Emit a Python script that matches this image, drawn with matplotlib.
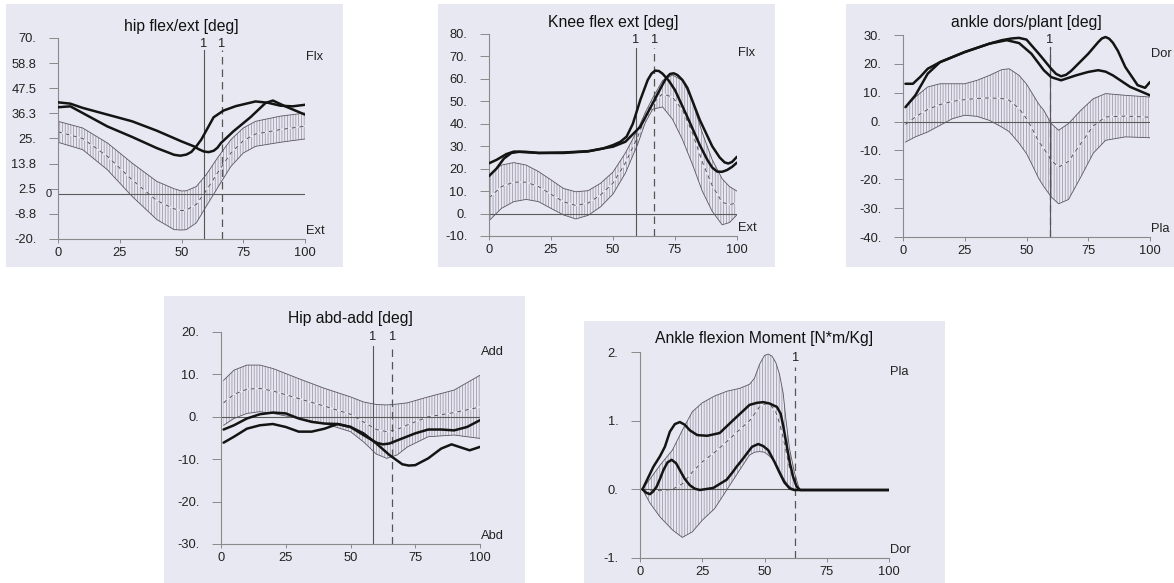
import matplotlib
matplotlib.use("Agg")
import matplotlib.pyplot as plt
from matplotlib.patches import Rectangle

plt.rcParams['font.family'] = ['Liberation Sans', 'DejaVu Sans']
plt.rcParams['hatch.linewidth'] = 0.55

# ---------------- DATA ----------------
# Panel 1: hip flex/ext [deg]
hipfe_band_x = [0, 10, 20, 30, 40, 47, 50, 52, 56, 60, 65, 70, 75, 80, 90, 100]
hipfe_upper = [32.7, 29.7, 23, 14, 5.8, 2.5, 1.5, 1.6, 3.5, 8.8, 17, 24.5, 29.7, 32.7, 35, 36.4]
hipfe_lower = [23.3, 20, 11, -0.9, -11.3, -15.8, -16, -15.8, -12.8, -5.4, 3.6, 12.5, 18.5, 21.5, 23.3, 24.8]
hipfe_mean = [28, 25, 17, 6.5, -2.8, -6.5, -7.3, -7, -4.5, 1.7, 10.3, 18.5, 24, 27, 29, 30.5]
hipfe_a_x = [0, 5, 10, 20, 30, 40, 50, 55, 57, 59, 61, 63, 64.5, 66, 71, 78, 84, 87, 92, 100]
hipfe_a_y = [41.2, 40.6, 38.7, 35.7, 32.7, 28.5, 23.7, 21.5, 20.2, 19.2, 18.9, 19.5, 20.8, 23, 28.2, 34.6, 40.9, 42, 39.4, 35.7]
hipfe_b_x = [0, 5, 10, 20, 30, 40, 44, 47, 49.5, 52, 54, 56, 58, 60, 63, 67, 72, 80, 85, 90, 95, 100]
hipfe_b_y = [39, 39.4, 36.4, 30.4, 25.7, 20.7, 19, 17.7, 17.3, 17.8, 19, 21.5, 24.5, 28.5, 34.5, 37.5, 39.5, 41.6, 41, 39.7, 39.4, 40.1]
hipfe_yticks = [70, 58.75, 47.5, 36.25, 25, 13.75, 2.5, -8.75, -20]
hipfe_ylabels = ["70.", "58.8", "47.5", "36.3", "25.", "13.8", "2.5", "-8.8", "-20."]
hipfe_events_solid = [59]
hipfe_events_dashed = [66.4]

# Panel 2: Knee flex ext [deg]
knee_band_x = [0, 5, 10, 15, 20, 25, 30, 35, 40, 45, 50, 55, 60, 63, 66, 70, 74, 78, 82, 86, 90, 94, 97, 100]
knee_upper = [17.2, 21.6, 22.7, 21.6, 18.7, 15, 11.2, 9.7, 10.2, 13.5, 18.5, 27, 37.5, 45, 51.5, 59.3, 61.7, 59.3, 50, 36, 24, 15.5, 12, 10]
knee_lower = [-3.2, 2.3, 5.3, 6.3, 5.3, 2.3, -0.6, -2.4, -0.8, 3, 8.7, 18, 31, 40.5, 46.5, 47.5, 42, 33, 22, 10, 1, -5, -4, -0.5]
knee_mean = [7, 12, 14, 14, 12, 8.6, 5.3, 3.6, 4.7, 8.3, 13.6, 22.5, 34.3, 42.8, 49, 53.4, 51.8, 46.2, 36, 23, 12.5, 5, 4, 4.7]
knee_a_x = [0, 3, 7, 10, 15, 20, 30, 40, 46, 50, 53, 55.5, 58, 61, 64, 65.5, 67, 68.5, 70, 72.5, 75, 80, 85, 88, 90, 92, 94, 96, 98, 100]
knee_a_y = [22.4, 23.9, 26.5, 27.6, 27.5, 27, 27, 27.7, 29, 30.5, 32, 34.3, 40, 50.6, 59.5, 62.3, 63.7, 63.5, 62.3, 59.2, 55, 43, 30.5, 24, 20.5, 18.7, 18.6, 19.4, 20.8, 22.7]
knee_b_x = [0, 3, 6, 9, 12, 20, 30, 40, 46, 50, 55, 61, 66, 70, 71.5, 73, 74.5, 76, 78, 80, 85, 90, 93, 95, 96.5, 98, 100]
knee_b_y = [16.7, 20, 24.5, 27, 27.5, 27, 27.2, 27.8, 29, 29.8, 32, 38.7, 49.1, 57.5, 60.5, 62.2, 62.5, 61.7, 59.5, 56, 41.7, 30, 25, 22.8, 22.3, 23, 25.3]
knee_yticks = [80, 70, 60, 50, 40, 30, 20, 10, 0, -10]
knee_ylabels = ["80.", "70.", "60.", "50.", "40.", "30.", "20.", "10.", "0.", "-10."]
knee_events_solid = [59.1]
knee_events_dashed = [66.6]

# Panel 3: ankle dors/plant [deg]
ank_band_x = [1, 5, 10, 15, 20, 25, 30, 35, 40, 43, 47, 50, 52, 55, 57, 60, 63, 67, 72, 77, 82, 90, 100]
ank_upper = [5, 8.5, 12, 13.1, 13.1, 13.1, 14.3, 16, 18, 18.3, 16, 13, 10.2, 6, 3.9, -0.7, -3, -0.7, 3.9, 7.9, 9.7, 9.1, 8.5]
ank_lower = [-7.1, -5.3, -3.6, -1.3, 1, 2.2, 1.8, 0.4, -1.9, -3.5, -7.5, -11.1, -14.5, -19.8, -22.5, -26.1, -28.5, -27, -19.2, -11, -6.5, -5.3, -5.6]
ank_mean = [-1, 1.6, 4.2, 5.9, 7, 7.6, 8, 8.2, 8, 7.4, 4.5, 1, -2, -7, -9.3, -13.4, -15.8, -13.8, -7.6, -1.5, 1.6, 1.9, 1.5]
ank_a_x = [1, 4, 7, 10, 15, 25, 35, 40, 44, 47, 50, 55, 60, 62, 64, 66, 68, 75, 79, 80.5, 82, 83.5, 85, 87, 90, 95, 98, 100]
ank_a_y = [13.1, 13.1, 15.5, 18.3, 20.6, 24.1, 27, 28.2, 28.8, 29, 28.4, 23.5, 18.3, 16.5, 15.7, 16.2, 17.5, 23.5, 27.5, 28.8, 29.3, 28.7, 27.3, 24.5, 18.9, 12.6, 11.7, 13.7]
ank_b_x = [1, 5, 10, 15, 25, 35, 42, 47, 52, 57, 60, 64, 70, 75, 79, 82, 85, 92, 100]
ank_b_y = [5, 9.1, 16.6, 20.6, 24.1, 27, 28.2, 27.2, 23.5, 17.8, 15.4, 14.3, 16, 17.2, 17.8, 17.3, 16, 12, 9.1]
ank_yticks = [30, 20, 10, 0, -10, -20, -30, -40]
ank_ylabels = ["30.", "20.", "10.", "0.", "-10.", "-20.", "-30.", "-40."]
ank_events_solid = [59.5]
ank_events_dashed = [59.5]

# Panel 4: Hip abd-add [deg]
hipaa_band_x = [1, 5, 10, 15, 20, 25, 30, 40, 50, 55, 60, 64, 68, 72, 80, 90, 100]
hipaa_upper = [8.6, 11, 12.2, 12.2, 11.4, 10.2, 9, 6.7, 4.7, 3.5, 2.9, 2.8, 3, 3.3, 4.7, 6.3, 9.8]
hipaa_lower = [-2, -0.4, 0.8, 1.2, 0.8, 0.2, -0.4, -1.6, -3.5, -5.9, -8.8, -9.8, -9, -7.1, -4.7, -4.3, -5.1]
hipaa_mean = [3.3, 5.3, 6.5, 6.7, 6.1, 5.2, 4.3, 2.5, 0.6, -1.2, -3, -3.5, -3, -1.9, 0, 1, 2.3]
hipaa_a_x = [1, 5, 10, 15, 20, 25, 30, 35, 40, 45, 50, 55, 60, 62.5, 65, 70, 75, 80, 85, 90, 95, 100]
hipaa_a_y = [-3, -2, -0.4, 0.6, 1, 0.8, -0.4, -1.2, -1.6, -1.7, -2.4, -4.3, -6.1, -6.5, -6.3, -5.1, -3.9, -3, -3, -3.2, -2.4, -0.8]
hipaa_b_x = [1, 5, 10, 15, 20, 25, 30, 35, 40, 45, 50, 55, 60, 65, 70, 72.5, 75, 80, 85, 89, 93, 96, 100]
hipaa_b_y = [-6.1, -4.7, -2.8, -2, -1.7, -2.4, -3.5, -3.5, -2.8, -1.7, -2.4, -3.9, -6.3, -9, -11.2, -11.5, -11.4, -9.8, -7.5, -6.5, -7.3, -7.9, -7.1]
hipaa_yticks = [20, 10, 0, -10, -20, -30]
hipaa_ylabels = ["20.", "10.", "0.", "-10.", "-20.", "-30."]
hipaa_events_solid = [58.6]
hipaa_events_dashed = [66.2]

# Panel 5: Ankle flexion Moment [N*m/Kg]
mom_band_x = [1, 4, 8, 13, 17, 21, 25, 30, 35, 40, 44, 46, 48, 50, 51.5, 53, 54.5, 56, 57.5, 58.5, 60, 62, 64]
mom_upper = [0, 0.15, 0.35, 0.57, 0.86, 1.13, 1.26, 1.36, 1.43, 1.47, 1.53, 1.62, 1.82, 1.95, 1.97, 1.94, 1.85, 1.68, 1.4, 1.05, 0.6, 0.25, 0]
mom_lower = [0, -0.2, -0.4, -0.59, -0.7, -0.62, -0.45, -0.28, 0, 0.28, 0.5, 0.54, 0.55, 0.54, 0.5, 0.45, 0.38, 0.28, 0.17, 0.11, 0.04, 0, 0]
mom_mean = [0, -0.02, -0.02, 0, 0.08, 0.25, 0.4, 0.54, 0.7, 0.87, 1.0, 1.1, 1.2, 1.24, 1.25, 1.2, 1.13, 0.97, 0.75, 0.58, 0.32, 0.12, 0]
mom_a_x = [1, 3, 5.4, 8, 10, 12, 14, 16, 18, 20, 23, 27, 32, 37.5, 44, 47, 49.5, 52, 55, 56.5, 57.6, 59, 60.2, 61.5, 62.9, 64.3, 100]
mom_a_y = [0, 0.15, 0.33, 0.48, 0.62, 0.84, 0.95, 0.98, 0.94, 0.86, 0.79, 0.78, 0.82, 1.01, 1.23, 1.26, 1.27, 1.25, 1.2, 1.1, 0.91, 0.62, 0.38, 0.18, 0.04, -0.01, -0.01]
mom_b_x = [1, 2.5, 4, 5.3, 6.7, 8, 9.4, 11, 12.7, 14.5, 16, 18, 20, 22, 24, 29.4, 34.8, 37, 38.8, 40.8, 42.9, 45, 47.5, 49.5, 51.5, 54, 56.2, 58, 60.2, 62, 100]
mom_b_y = [0, -0.05, -0.07, -0.03, 0.04, 0.15, 0.28, 0.39, 0.43, 0.38, 0.28, 0.15, 0.06, 0.01, -0.01, 0.02, 0.14, 0.24, 0.33, 0.42, 0.52, 0.62, 0.66, 0.63, 0.57, 0.4, 0.23, 0.1, 0.01, -0.01, -0.01]
mom_yticks = [2, 1, 0, -1]
mom_ylabels = ["2.", "1.", "0.", "-1."]
mom_events_solid = []
mom_events_dashed = [62.4]

xticks = [0, 25, 50, 75, 100]

# ---------------- LAYOUT / STYLE ----------------
W, H = 1174, 583
BG = '#e8e8f2'
HATCH = '#9c95a6'
CURVE = '#141414'

fig = plt.figure(figsize=(W / 100, H / 100), dpi=100)
fig.patch.set_facecolor('white')

panels = [
    dict(bg=(6, 4, 343, 267), ax=(58, 38, 305, 239), title="hip flex/ext [deg]", tdy=11,
         ylim=(-20, 70), yt=hipfe_yticks, yl=hipfe_ylabels, top="Flx", bot="Ext",
         band=(hipfe_band_x, hipfe_lower, hipfe_upper, hipfe_mean),
         curves=[(hipfe_a_x, hipfe_a_y), (hipfe_b_x, hipfe_b_y)],
         ev_s=hipfe_events_solid, ev_d=hipfe_events_dashed, lab_dy=6, line_dy=12, zero_label=True),
    dict(bg=(438, 4, 775, 267), ax=(489, 34, 737, 236), title="Knee flex ext [deg]", tdy=12,
         ylim=(-10, 80), yt=knee_yticks, yl=knee_ylabels, top="Flx", bot="Ext",
         band=(knee_band_x, knee_lower, knee_upper, knee_mean),
         curves=[(knee_a_x, knee_a_y), (knee_b_x, knee_b_y)],
         ev_s=knee_events_solid, ev_d=knee_events_dashed, lab_dy=6, line_dy=14, zero_label=False),
    dict(bg=(846, 4, 1174, 267), ax=(903, 35, 1150, 237), title="ankle dors/plant [deg]", tdy=12,
         ylim=(-40, 30), yt=ank_yticks, yl=ank_ylabels, top="Dor", bot="Pla",
         band=(ank_band_x, ank_lower, ank_upper, ank_mean),
         curves=[(ank_a_x, ank_a_y), (ank_b_x, ank_b_y)],
         ev_s=ank_events_solid, ev_d=ank_events_dashed, lab_dy=5, line_dy=12, zero_label=False),
    dict(bg=(164, 296, 525, 583), ax=(221, 332, 480, 544), title="Hip abd-add [deg]", tdy=14,
         ylim=(-30, 20), yt=hipaa_yticks, yl=hipaa_ylabels, top="Add", bot="Abd",
         band=(hipaa_band_x, hipaa_lower, hipaa_upper, hipaa_mean),
         curves=[(hipaa_a_x, hipaa_a_y), (hipaa_b_x, hipaa_b_y)],
         ev_s=hipaa_events_solid, ev_d=hipaa_events_dashed, lab_dy=5, line_dy=14, zero_label=False),
    dict(bg=(584, 321, 945, 583), ax=(640, 352, 889, 558), title="Ankle flexion Moment [N*m/Kg]", tdy=13,
         ylim=(-1, 2), yt=mom_yticks, yl=mom_ylabels, top="Pla", bot="Dor",
         band=(mom_band_x, mom_lower, mom_upper, mom_mean),
         curves=[(mom_a_x, mom_a_y), (mom_b_x, mom_b_y)],
         ev_s=mom_events_solid, ev_d=mom_events_dashed, lab_dy=6, line_dy=15, zero_label=False),
]

for p in panels:
    bx0, by0, bx1, by1 = p['bg']
    fig.patches.append(Rectangle((bx0 / W, 1 - by1 / H), (bx1 - bx0) / W, (by1 - by0) / H,
                                 transform=fig.transFigure, facecolor=BG, edgecolor='none', zorder=-10))
    ax0, ay0, ax1, ay1 = p['ax']
    axh = ay1 - ay0
    ax = fig.add_axes([ax0 / W, 1 - ay1 / H, (ax1 - ax0) / W, axh / H])
    ax.set_zorder(5)
    ax.set_facecolor('none')
    ax.patch.set_alpha(0)
    ax.set_xlim(0, 100)
    ax.set_ylim(*p['ylim'])
    for s in ('top', 'right'):
        ax.spines[s].set_visible(False)
    for s in ('left', 'bottom'):
        ax.spines[s].set_color('#8a8a8a')
        ax.spines[s].set_linewidth(0.8)
    ax.set_yticks(p['yt'])
    ax.set_yticklabels(p['yl'])
    ax.set_xticks(xticks)
    ax.set_xticklabels([str(v) for v in xticks])
    ax.tick_params(axis='y', length=6.5, width=0.7, color='#8a8a8a', pad=9, labelsize=9.3, labelcolor='#222')
    ax.tick_params(axis='x', length=3, width=0.7, color='#8a8a8a', pad=3, labelsize=9.3, labelcolor='#222')

    # normal band
    bxs, lo, up, mn = p['band']
    ax.fill_between(bxs, lo, up, facecolor='none', edgecolor=HATCH, hatch='|' * 6, linewidth=0, zorder=1)
    ax.plot(bxs, mn, color=BG, lw=1.1, zorder=1.5, solid_capstyle='butt')
    ax.plot(bxs, mn, color='#555058', lw=0.7, ls=(0, (4, 4)), zorder=1.6)
    ax.plot(bxs, up, color='#5a5560', lw=0.6, zorder=2)
    ax.plot(bxs, lo, color='#5a5560', lw=0.6, zorder=2)

    # zero line
    ax.axhline(0, color='#5a5a5a', lw=0.8, zorder=2)
    if p['zero_label']:
        ax.text(-0.036, 0, "0", transform=ax.get_yaxis_transform(), ha='center', va='center',
                fontsize=8, color='#222')

    # event lines
    ytop = 1 - p['line_dy'] / axh
    ylab = 1 - p['lab_dy'] / axh
    labels_x = []
    for xe in p['ev_s']:
        ax.axvline(xe, ymin=0, ymax=ytop, color='#555', lw=0.8, zorder=2.5)
        labels_x.append(xe)
    for xe in p['ev_d']:
        ax.axvline(xe, ymin=0, ymax=ytop, color='#555', lw=0.9, ls=(0, (6, 4)), zorder=2.5)
        if all(abs(xe - l) > 1 for l in labels_x):
            labels_x.append(xe)
    for xe in labels_x:
        ax.text(xe, ylab, "1", transform=ax.get_xaxis_transform(), ha='center', va='center',
                fontsize=9.3, color='#222')

    # subject curves
    for cx, cy in p['curves']:
        ax.plot(cx, cy, color=CURVE, lw=1.8, zorder=3, solid_joinstyle='round', solid_capstyle='round')

    # side labels
    ax.text(1.005, 0.905, p['top'], transform=ax.transAxes, ha='left', va='center', fontsize=9.3, color='#222')
    ax.text(1.005, 0.04, p['bot'], transform=ax.transAxes, ha='left', va='center', fontsize=9.3, color='#222')

    # title
    ax.text(0.5, 1 + p['tdy'] / axh, p['title'], transform=ax.transAxes, ha='center', va='center',
            fontsize=11.3, color='#111')

fig.savefig("out.png", dpi=100, facecolor='white')
